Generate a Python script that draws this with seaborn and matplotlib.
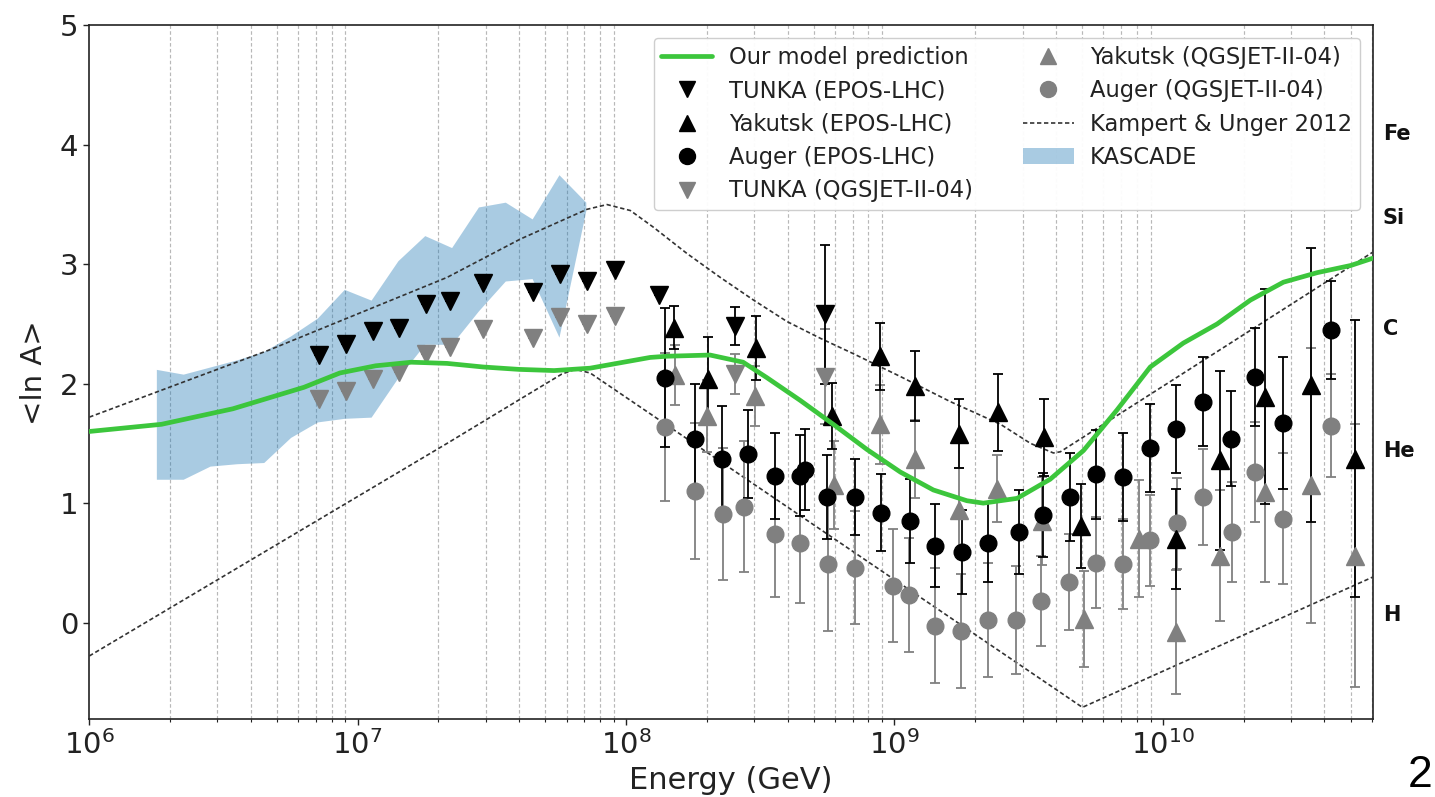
import numpy as np
import matplotlib
matplotlib.use("Agg")
import matplotlib.pyplot as plt
import seaborn as sns
from matplotlib.lines import Line2D
from matplotlib.patches import Patch
from matplotlib.ticker import NullFormatter, FixedLocator

# ---------------- data (log10 of energy in GeV, <ln A>) ----------------
model_lgE = [6.0, 6.269, 6.535, 6.800, 6.934, 7.067, 7.200, 7.333, 7.467, 7.600, 7.732, 7.866,
             8.090, 8.152, 8.313, 8.436, 8.525, 8.649, 8.772, 8.897, 9.022, 9.145, 9.270, 9.331,
             9.457, 9.580, 9.704, 9.829, 9.953, 10.076, 10.202, 10.326, 10.449, 10.575, 10.700, 10.781]
model_lnA = [1.60, 1.66, 1.79, 1.97, 2.09, 2.15, 2.18, 2.17, 2.14, 2.12, 2.11, 2.13,
             2.22, 2.23, 2.24, 2.18, 2.05, 1.86, 1.66, 1.45, 1.26, 1.11, 1.02, 1.00,
             1.04, 1.20, 1.44, 1.78, 2.14, 2.34, 2.50, 2.70, 2.85, 2.93, 2.99, 3.05]

ku_upper_lgE = [6.0, 6.668, 7.333, 7.605, 7.854, 7.929, 8.016, 8.102, 8.227, 8.351, 8.475, 8.600,
                8.724, 8.848, 9.022, 9.208, 9.395, 9.507, 9.592, 9.618, 10.781]
ku_upper_lnA = [1.72, 2.28, 2.89, 3.21, 3.46, 3.50, 3.45, 3.31, 3.09, 2.89, 2.70, 2.52,
                2.38, 2.25, 2.06, 1.85, 1.66, 1.50, 1.42, 1.43, 3.10]
ku_lower_lgE = [6.0, 7.333, 7.605, 7.76, 7.81, 7.866, 9.70, 10.781]
ku_lower_lnA = [-0.28, 1.50, 1.87, 2.08, 2.12, 2.09, -0.71, 0.38]

kascade_lgE = [6.25, 6.35, 6.45, 6.55, 6.65, 6.75, 6.85, 6.95, 7.05, 7.15, 7.25, 7.35, 7.45,
               7.55, 7.65, 7.75, 7.85]
kascade_hi = [2.12, 2.08, 2.14, 2.20, 2.27, 2.40, 2.55, 2.79, 2.70, 3.03, 3.24, 3.14, 3.48,
              3.52, 3.38, 3.75, 3.52]
kascade_lo = [1.20, 1.20, 1.31, 1.33, 1.34, 1.55, 1.68, 1.71, 1.72, 2.05, 2.33, 2.33, 2.61,
              2.86, 2.88, 2.39, 3.45]

tunka_epos_lgE = [6.855, 6.958, 7.057, 7.155, 7.254, 7.344, 7.467, 7.655, 7.754, 7.854, 7.959,
                  8.121, 8.407, 8.742]
tunka_epos = [2.24, 2.33, 2.44, 2.47, 2.67, 2.69, 2.84, 2.77, 2.92, 2.86, 2.95, 2.74, 2.48, 2.58]
tunka_epos_err = [0, 0, 0, 0, 0, 0, 0, 0, 0, 0, 0, 0, 0.16, 0.58]

tunka_qgs_lgE = [6.855, 6.958, 7.057, 7.155, 7.254, 7.344, 7.467, 7.655, 7.754, 7.854, 7.959,
                 8.407, 8.742]
tunka_qgs = [1.87, 1.94, 2.04, 2.10, 2.25, 2.31, 2.46, 2.38, 2.56, 2.50, 2.57, 2.08, 2.06]
tunka_qgs_err = [0, 0, 0, 0, 0, 0, 0, 0, 0, 0, 0, 0.17, 0.40]

yak_epos_lgE = [8.177, 8.307, 8.485, 8.767, 8.947, 9.078, 9.239, 9.386, 9.556, 9.696, 10.047,
                10.212, 10.382, 10.550, 10.717]
yak_epos = [2.47, 2.04, 2.30, 1.73, 2.23, 1.98, 1.58, 1.76, 1.55, 0.81, 0.70, 1.36, 1.89, 1.99, 1.37]
yak_epos_err = [0.18, 0.35, 0.27, 0.28, 0.28, 0.29, 0.29, 0.32, 0.32, 0.35, 0.42, 0.75, 0.90,
                1.15, 1.16]

yak_qgs_lgE = [8.183, 8.301, 8.481, 8.773, 8.947, 9.078, 9.239, 9.382, 9.550, 9.705, 9.910,
               10.047, 10.212, 10.382, 10.550, 10.717]
yak_qgs = [2.07, 1.73, 1.90, 1.15, 1.66, 1.37, 0.94, 1.12, 0.85, 0.03, 0.70, -0.08, 0.56, 1.09,
           1.15, 0.56]
yak_qgs_err = [0.25, 0.30, 0.25, 0.37, 0.33, 0.33, 0.35, 0.28, 0.37, 0.40, 0.49, 0.52, 0.55,
               0.75, 1.15, 1.10]

auger_epos_lgE = [8.146, 8.258, 8.357, 8.456, 8.553, 8.649, 8.668, 8.748, 8.854, 8.951, 9.059,
                  9.152, 9.251, 9.348, 9.465, 9.555, 9.655, 9.751, 9.853, 9.953, 10.047, 10.150,
                  10.252, 10.345, 10.449, 10.628]
auger_epos = [2.05, 1.54, 1.37, 1.41, 1.23, 1.23, 1.28, 1.05, 1.05, 0.92, 0.85, 0.645, 0.59, 0.67,
              0.76, 0.90, 1.05, 1.24, 1.22, 1.46, 1.62, 1.85, 1.54, 2.06, 1.67, 2.45]
auger_epos_err = [0.58, 0.46, 0.44, 0.37, 0.36, 0.34, 0.34, 0.35, 0.32, 0.32, 0.35, 0.35, 0.35,
                  0.33, 0.35, 0.35, 0.37, 0.37, 0.37, 0.37, 0.37, 0.37, 0.40, 0.41, 0.55, 0.41]

auger_qgs_lgE = [8.146, 8.258, 8.361, 8.440, 8.556, 8.649, 8.754, 8.854, 8.994, 9.053, 9.152,
                 9.249, 9.350, 9.454, 9.546, 9.649, 9.751, 9.853, 9.953, 10.051, 10.150, 10.256,
                 10.345, 10.449, 10.628]
auger_qgs = [1.64, 1.10, 0.91, 0.97, 0.74, 0.67, 0.49, 0.46, 0.31, 0.23, -0.025, -0.07, 0.02, 0.02,
             0.18, 0.34, 0.50, 0.49, 0.69, 0.83, 1.05, 0.76, 1.26, 0.87, 1.65]
auger_qgs_err = [0.62, 0.57, 0.55, 0.55, 0.53, 0.51, 0.56, 0.47, 0.47, 0.48, 0.48, 0.48, 0.48,
                 0.45, 0.38, 0.40, 0.38, 0.38, 0.38, 0.38, 0.40, 0.42, 0.42, 0.55, 0.43]

element_names = ["Fe", "Si", "C", "He", "H"]
element_pos = [4.09, 3.39, 2.46, 1.44, 0.065]

legend_labels = ["Our model prediction", "TUNKA (EPOS-LHC)", "Yakutsk (EPOS-LHC)",
                 "Auger (EPOS-LHC)", "TUNKA (QGSJET-II-04)", "Yakutsk (QGSJET-II-04)",
                 "Auger (QGSJET-II-04)", "Kampert & Unger 2012", "KASCADE"]

# ---------------- style ----------------
sns.set_style("ticks")
plt.rcParams['font.family'] = ['DejaVu Sans']
plt.rcParams['axes.edgecolor'] = '#222222'
plt.rcParams['xtick.color'] = '#222222'
plt.rcParams['ytick.color'] = '#222222'
plt.rcParams['text.color'] = '#222222'
plt.rcParams['axes.labelcolor'] = '#222222'

GREEN = '#3cc63c'
GRAY = '#808080'
KAS = (0.12, 0.47, 0.71, 0.38)
DASH = (0, (2.6, 1.6))

fig = plt.figure(figsize=(14.35, 7.97), dpi=100)
ax = fig.add_axes([0.0622, 0.0975, 0.8944, 0.8706])
ax.set_xscale('log')

E = lambda lg: 10 ** np.asarray(lg, dtype=float)

# KASCADE band
ax.fill_between(E(kascade_lgE), kascade_lo, kascade_hi, color=KAS, lw=0, zorder=1)

# Kampert & Unger lines
sns.lineplot(x=E(ku_upper_lgE), y=ku_upper_lnA, ax=ax, color='#333333', lw=1.2,
             linestyle=DASH, sort=False, zorder=3)
sns.lineplot(x=E(ku_lower_lgE), y=ku_lower_lnA, ax=ax, color='#333333', lw=1.2,
             linestyle=DASH, sort=False, zorder=3)

# data points
def pts(lg, v, err, marker, color, ms):
    ax.errorbar(E(lg), v, yerr=err, fmt=marker, color=color, mfc=color, mec=color, ms=ms,
                ecolor=color, elinewidth=1.3, capsize=3.6, capthick=1.3, zorder=4)

pts(auger_qgs_lgE, auger_qgs, auger_qgs_err, 'o', GRAY, 12)
pts(yak_qgs_lgE, yak_qgs, yak_qgs_err, '^', GRAY, 12.5)
pts(tunka_qgs_lgE, tunka_qgs, tunka_qgs_err, 'v', GRAY, 12.5)
pts(auger_epos_lgE, auger_epos, auger_epos_err, 'o', 'black', 12)
pts(yak_epos_lgE, yak_epos, yak_epos_err, '^', 'black', 12.5)
pts(tunka_epos_lgE, tunka_epos, tunka_epos_err, 'v', 'black', 12.5)

# model
sns.lineplot(x=E(model_lgE), y=model_lnA, ax=ax, color=GREEN, lw=3.4, sort=False, zorder=5)

ax.set_xlim(1e6, 6.05e10)
ax.set_ylim(-0.81, 5)
ax.yaxis.set_major_locator(FixedLocator([0, 1, 2, 3, 4, 5]))
ax.xaxis.set_minor_formatter(NullFormatter())
ax.grid(False)
ax.xaxis.grid(True, which='minor', linestyle=(0, (3, 2)), color='#b8b8b8', linewidth=0.85)
ax.tick_params(axis='both', which='major', labelsize=21, length=4.5, width=1.0)
ax.tick_params(axis='x', which='minor', length=2.5, width=0.8)
for s in ax.spines.values():
    s.set_linewidth(1.2)
    s.set_visible(True)

ax.set_xlabel("Energy (GeV)", fontsize=22, labelpad=4)
ax.set_ylabel("<ln A>", fontsize=21, labelpad=8)

# element labels on the right
for name, yv in zip(element_names, element_pos):
    ax.text(1.0078, yv, name, transform=ax.get_yaxis_transform(), fontsize=15,
            fontweight='bold', va='center', ha='left', color='#111111')

# legend
handles = [
    Line2D([], [], color=GREEN, lw=3.4),
    Line2D([], [], marker='v', ls='none', color='black', ms=11.5),
    Line2D([], [], marker='^', ls='none', color='black', ms=11.5),
    Line2D([], [], marker='o', ls='none', color='black', ms=11.5),
    Line2D([], [], marker='v', ls='none', color=GRAY, ms=11.5),
    Line2D([], [], marker='^', ls='none', color=GRAY, ms=11.5),
    Line2D([], [], marker='o', ls='none', color=GRAY, ms=11.5),
    Line2D([], [], color='#333333', lw=1.2, linestyle=DASH),
    Patch(facecolor=KAS, edgecolor='none'),
]
leg = ax.legend(handles, legend_labels, ncol=2, loc='upper right', fontsize=16.3,
                frameon=True, framealpha=0.95, handlelength=2.25, handletextpad=0.73,
                columnspacing=2.2, labelspacing=0.46, borderpad=0.35,
                borderaxespad=0.55)
leg.get_frame().set_edgecolor('#cccccc')

# slide page number
fig.text(1408 / 1435, 10 / 797, "2", fontsize=32, family=['Liberation Sans', 'DejaVu Sans'],
         ha='left', va='baseline', color='black')

fig.savefig("out.png", dpi=100)
